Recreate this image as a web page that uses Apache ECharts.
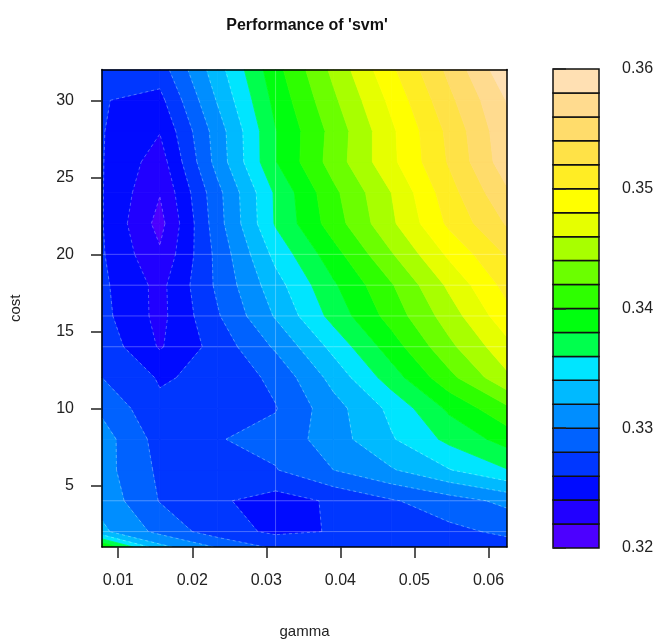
<!DOCTYPE html>
<html><head><meta charset="utf-8">
<style>html,body{margin:0;padding:0;background:#fff}#c{width:665px;height:644px}</style>
<script src="https://cdn.jsdelivr.net/npm/echarts@6/dist/echarts.min.js"></script>
</head><body><div id="c"></div>
<script>
const titleText = "Performance of 'svm'";
const xName = "gamma";
const yName = "cost";
const gammaValues = [0.0078125,0.015625,0.0234375,0.03125,0.0390625,0.046875,0.0546875,0.0625];
const costValues = [1,2,4,6,8,10,12,14,16,18,20,22,24,26,28,30,32];
const r01 = [.3400,.3326,.3298,.3276,.3272,.3272,.3272,.3272];
const r02 = [.3324,.3294,.3269,.3256,.3261,.3268,.3275,.3284];
const r04 = [.3313,.3279,.3263,.3251,.3263,.3278,.3291,.3305];
const r06 = [.3308,.3276,.3268,.3279,.3300,.3318,.3339,.3359];
const r08 = [.3309,.3272,.3279,.3286,.3311,.3338,.3365,.3388];
const r10 = [.3296,.3264,.3266,.3279,.3312,.3345,.3384,.3416];
const r12 = [.3280,.3258,.3265,.3285,.3327,.3370,.3414,.3456];
const r14 = [.3273,.3238,.3268,.3303,.3346,.3390,.3435,.3474];
const r16 = [.3266,.3234,.3278,.3322,.3367,.3408,.3450,.3493];
const r18 = [.3264,.3234,.3284,.3332,.3377,.3418,.3464,.3507];
const r20 = [.3262,.3223,.3286,.3346,.3392,.3438,.3484,.3522];
const r22 = [.3261,.3213,.3292,.3362,.3410,.3456,.3504,.3542];
const r24 = [.3261,.3221,.3294,.3363,.3415,.3460,.3512,.3557];
const r26 = [.3261,.3230,.3308,.3379,.3429,.3475,.3522,.3572];
const r28 = [.3261,.3241,.3310,.3379,.3427,.3476,.3525,.3575];
const r30 = [.3261,.3254,.3322,.3386,.3436,.3485,.3535,.3581];
const r32 = [.3270,.3270,.3332,.3393,.3445,.3496,.3545,.3595];
const errorGrid = [r01,r02,r04,r06,r08,r10,r12,r14,r16,r18,r20,r22,r24,r26,r28,r30,r32];
const levels = [.320,.322,.324,.326,.328,.330,.332,.334,.336,.338,.340,.342,.344,.346,.348,.350,.352,.354,.356,.358,.360];
const bandColors = ['#4C00FF','#2100FF','#000BFF','#0037FF','#0062FF','#008EFF','#00BAFF','#00E5FF','#00FF4D','#00FF0F','#2EFF00','#6BFF00','#A8FF00','#E6FF00','#FFFF00','#FFED24','#FFE247','#FFDC6B','#FFDB8F','#FFE0B3'];
const xTicks = [0.01,0.02,0.03,0.04,0.05,0.06];
const yTicks = [5,10,15,20,25,30];
const barTicks = [0.32,0.33,0.34,0.35,0.36];
const seamCosts = [2,4,14,16,18,20];
const seamGammas = [0.03125];
const dashedLevels = [.322,.324,.326,.328,.330,.332,.334];

function clip(poly, level, keepAbove){
  const out=[];
  for(let i=0;i<poly.length;i++){
    const a=poly[i], b=poly[(i+1)%poly.length];
    const ina = keepAbove ? a[2]>=level : a[2]<=level;
    const inb = keepAbove ? b[2]>=level : b[2]<=level;
    if(ina) out.push(a);
    if(ina!==inb){
      const t=(level-a[2])/(b[2]-a[2]);
      out.push([a[0]+t*(b[0]-a[0]),a[1]+t*(b[1]-a[1]),level]);
    }
  }
  return out;
}
const polys=[], segs=[];
for(let r=0;r<costValues.length-1;r++){
  for(let c=0;c<gammaValues.length-1;c++){
    const quad=[[gammaValues[c],costValues[r],errorGrid[r][c]],
      [gammaValues[c+1],costValues[r],errorGrid[r][c+1]],
      [gammaValues[c+1],costValues[r+1],errorGrid[r+1][c+1]],
      [gammaValues[c],costValues[r+1],errorGrid[r+1][c]]];
    bandColors.forEach((col,k)=>{
      let p=clip(quad,levels[k],true);
      if(p.length) p=clip(p,levels[k+1],false);
      if(p.length>2) polys.push({k,p});
    });
    dashedLevels.forEach(L=>{
      const pts=[];
      for(let i=0;i<4;i++){
        const a=quad[i], b=quad[(i+1)%4];
        if((a[2]>=L)!==(b[2]>=L)){
          const t=(L-a[2])/(b[2]-a[2]);
          pts.push([a[0]+t*(b[0]-a[0]),a[1]+t*(b[1]-a[1])]);
        }
      }
      for(let i=0;i+1<pts.length;i+=2) segs.push([pts[i],pts[i+1]]);
    });
  }
}
const font='"Liberation Sans",Arial,sans-serif';
const txt='#222';
const chart=echarts.init(document.getElementById('c'),null,{renderer:'canvas'});
const frame={show:true,lineStyle:{color:'#000',width:1.5}};
chart.setOption({
  animation:false,
  backgroundColor:'#fff',
  title:{text:titleText,left:302,top:13,textAlign:'center',textStyle:{fontFamily:font,fontSize:16,fontWeight:'bold',color:'#111'}},
  grid:[{left:98.5,top:69.5,width:408.5,height:478.5},{left:553,top:69,width:46,height:479}],
  xAxis:[
   {gridIndex:0,type:'value',min:gammaValues[0],max:gammaValues[7],position:'bottom',z:5,name:xName,nameLocation:'middle',nameGap:77,
    nameTextStyle:{fontFamily:font,fontSize:15,color:txt},axisLine:frame,splitLine:{show:false},
    axisTick:{show:true,length:11,customValues:xTicks,lineStyle:{color:'#222',width:1.5}},
    axisLabel:{customValues:xTicks,margin:26,fontFamily:font,fontSize:16,color:txt,formatter:v=>v.toFixed(2)}},
   {gridIndex:0,type:'value',min:gammaValues[0],max:gammaValues[7],position:'top',z:5,axisLine:frame,axisTick:{show:false},axisLabel:{show:false},splitLine:{show:false}},
   {gridIndex:1,type:'value',min:0,max:1,show:false}
  ],
  yAxis:[
   {gridIndex:0,type:'value',min:1,max:32,position:'left',z:5,name:yName,nameLocation:'middle',nameGap:79,nameRotate:90,
    nameTextStyle:{fontFamily:font,fontSize:15,color:txt},axisLine:frame,splitLine:{show:false},
    axisTick:{show:true,length:11,customValues:yTicks,lineStyle:{color:'#222',width:1.5}},
    axisLabel:{customValues:yTicks,margin:28,fontFamily:font,fontSize:16,color:txt}},
   {gridIndex:0,type:'value',min:1,max:32,position:'right',z:5,axisLine:frame,axisTick:{show:false},axisLabel:{show:false},splitLine:{show:false}},
   {gridIndex:1,type:'value',min:0.32,max:0.36,interval:0.01,position:'right',z:5,splitLine:{show:false},axisLine:{show:false},
    axisTick:{show:true,length:13,lineStyle:{color:'#222',width:1.5}},
    axisLabel:{margin:23,fontFamily:font,fontSize:16,color:txt,formatter:v=>v.toFixed(2)}}
  ],
  series:[
   {type:'custom',xAxisIndex:0,yAxisIndex:0,silent:true,z:2,clip:true,
    data:polys.map(o=>[o.p[0][0],o.p[0][1]]),
    renderItem:(params,api)=>{
      const o=polys[params.dataIndex];
      return {type:'polygon',shape:{points:o.p.map(q=>api.coord([q[0],q[1]]))},
        style:{fill:bandColors[o.k],stroke:bandColors[o.k],lineWidth:0.8}};
    }},
   {type:'custom',xAxisIndex:0,yAxisIndex:0,silent:true,z:3,clip:true,
    data:segs.map(s=>s[0]),
    renderItem:(params,api)=>{
      const s=segs[params.dataIndex], a=api.coord(s[0]), b=api.coord(s[1]);
      return {type:'line',shape:{x1:a[0],y1:a[1],x2:b[0],y2:b[1]},
        style:{stroke:'rgba(255,255,255,0.3)',lineWidth:1,lineDash:[3,3],fill:null}};
    }},
   {type:'custom',xAxisIndex:0,yAxisIndex:0,silent:true,z:4,clip:true,
    data:seamCosts.map(c=>[gammaValues[0],c]).concat(seamGammas.map(g=>[g,costValues[0]])),
    renderItem:(params,api)=>{
      const i=params.dataIndex, isH=i<seamCosts.length;
      const a=isH?api.coord([gammaValues[0],seamCosts[i]]):api.coord([seamGammas[0],costValues[0]]);
      const b=isH?api.coord([gammaValues[7],seamCosts[i]]):api.coord([seamGammas[0],costValues[16]]);
      return {type:'line',shape:{x1:a[0],y1:a[1],x2:b[0],y2:b[1]},
        style:{stroke:'rgba(255,255,255,0.28)',lineWidth:1,fill:null}};
    }},
   {type:'custom',xAxisIndex:2,yAxisIndex:2,silent:true,z:2,clip:false,
    data:bandColors.map((c,k)=>[k]),
    renderItem:(params,api)=>{
      const k=params.dataIndex, a=api.coord([0,levels[k+1]]), b=api.coord([1,levels[k]]);
      return {type:'rect',shape:{x:a[0],y:a[1],width:b[0]-a[0],height:b[1]-a[1]},
        style:{fill:bandColors[k],stroke:'#111',lineWidth:1.5}};
    }}
  ]
});
</script></body></html>
